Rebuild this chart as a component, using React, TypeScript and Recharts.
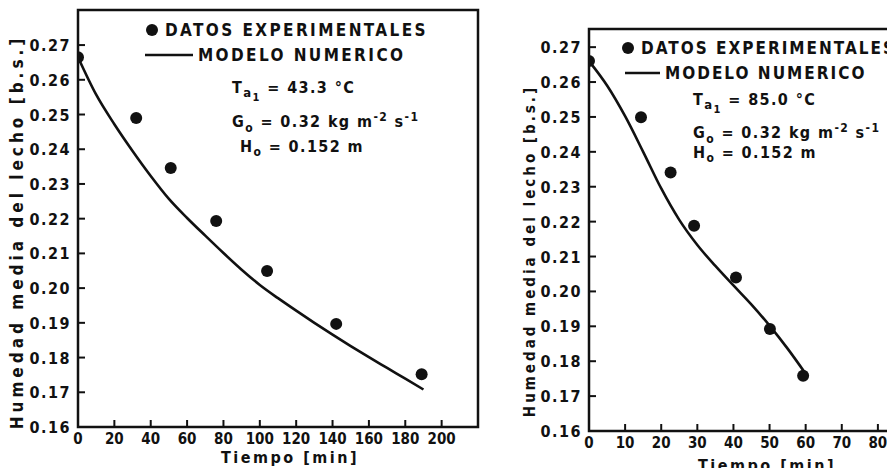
import React from "react";
import {
  ComposedChart,
  Legend,
  Line,
  ReferenceArea,
  Scatter,
  XAxis,
  YAxis,
} from "recharts";

// panel a: Ta1 = 43.3 °C
const tiempoExpA = [0, 32, 51, 76, 104, 142, 189];
const humedadExpA = [0.2665, 0.249, 0.2346, 0.2193, 0.2049, 0.1897, 0.1752];
const tiempoModA = [0, 10, 20, 30, 40, 50, 60, 70, 80, 90, 100, 110, 120, 130, 140, 150, 160, 170, 180, 190];
const humedadModA = [
  0.2665, 0.2557, 0.2472, 0.2395, 0.2323, 0.2257, 0.2202, 0.2151, 0.2101, 0.2053,
  0.2009, 0.1971, 0.1935, 0.19, 0.1866, 0.1833, 0.1801, 0.177, 0.1739, 0.1708,
];

// panel b: Ta1 = 85.0 °C
const tiempoExpB = [0, 14.4, 22.6, 29.1, 40.7, 50.1, 59.3];
const humedadExpB = [0.266, 0.2499, 0.2341, 0.2188, 0.204, 0.1892, 0.1758];
const tiempoModB = [0, 5, 10, 15, 20, 25, 30, 35, 40, 45, 50, 55, 60];
const humedadModB = [
  0.266, 0.259, 0.2502, 0.24, 0.2295, 0.2205, 0.2133, 0.2073, 0.2017, 0.1962,
  0.1902, 0.1836, 0.1764,
];

const yTicks = [0.16, 0.17, 0.18, 0.19, 0.2, 0.21, 0.22, 0.23, 0.24, 0.25, 0.26, 0.27];
const xTicksA = [0, 20, 40, 60, 80, 100, 120, 140, 160, 180, 200];
const xTicksB = [0, 10, 20, 30, 40, 50, 60, 70, 80];

const FONT = '"DejaVu Sans Condensed", "DejaVu Sans", sans-serif';
const INK = "#111";

const zip = (xs: number[], ys: number[]) => xs.map((t, i) => ({ t, h: ys[i] }));

const XTick = (props: any) => {
  const { x, y, payload } = props;
  return (
    <g>
      <line x1={x} x2={x} y1={y} y2={y - 7} stroke={INK} strokeWidth={2} />
      <text x={x} y={y + 17} textAnchor="middle" fontFamily={FONT} fontWeight="bold" fontSize={15} fill={INK}>
        {payload.value}
      </text>
    </g>
  );
};

const YTick = (props: any) => {
  const { x, y, payload } = props;
  return (
    <g>
      <line x1={x} x2={x + 7} y1={y} y2={y} stroke={INK} strokeWidth={2} />
      <text x={x - 7} y={y + 6} textAnchor="end" fontFamily={FONT} fontWeight="bold" fontSize={16} letterSpacing={1.5} fill={INK}>
        {payload.value.toFixed(2)}
      </text>
    </g>
  );
};

type PanelProps = {
  left: number;
  width: number;
  margin: { top: number; right: number; bottom: number; left: number };
  xDomain: [number, number];
  yDomain: [number, number];
  xTicks: number[];
  exp: { t: number; h: number }[];
  mod: { t: number; h: number }[];
  yTitle: { x: number; y: number; size: number; spacing: number };
  xTitle: { x: number; y: number };
  legend: { left: number; top: number; dotX: number; lineX2: number; spacing: number };
};

function Panel(p: PanelProps) {
  const renderLegend = () => (
    <svg width={360} height={56} style={{ overflow: "visible" }}>
      <circle cx={p.legend.dotX} cy={15} r={6} fill={INK} />
      <text x={p.legend.dotX + 13} y={21} fontFamily={FONT} fontWeight="bold" fontSize={17} letterSpacing={p.legend.spacing} fill={INK}>
        DATOS EXPERIMENTALES
      </text>
      <line x1={5} x2={p.legend.lineX2} y1={40} y2={40} stroke={INK} strokeWidth={2.5} />
      <text x={p.legend.lineX2 + 5} y={46} fontFamily={FONT} fontWeight="bold" fontSize={17} letterSpacing={p.legend.spacing} fill={INK}>
        MODELO NUMERICO
      </text>
    </svg>
  );

  return (
    <div style={{ position: "absolute", left: p.left, top: 0 }}>
      <ComposedChart width={p.width} height={476} margin={p.margin}>
        <XAxis
          type="number"
          dataKey="t"
          domain={p.xDomain}
          ticks={p.xTicks}
          allowDataOverflow
          axisLine={false}
          tickLine={false}
          tickSize={0}
          tickMargin={0}
          height={30}
          tick={<XTick />}
          label={() => (
            <text x={p.xTitle.x} y={p.xTitle.y} textAnchor="middle" fontFamily={FONT} fontWeight="bold" fontSize={16} letterSpacing={2.5} fill={INK}>
              Tiempo [min]
            </text>
          )}
        />
        <YAxis
          type="number"
          domain={p.yDomain}
          ticks={yTicks}
          allowDataOverflow
          axisLine={false}
          tickLine={false}
          tickSize={0}
          tickMargin={0}
          width={60}
          tick={<YTick />}
          label={() => (
            <text
              x={p.yTitle.x}
              y={p.yTitle.y}
              transform={`rotate(-90 ${p.yTitle.x} ${p.yTitle.y})`}
              textAnchor="middle"
              dominantBaseline="central"
              fontFamily={FONT}
              fontWeight="bold"
              fontSize={p.yTitle.size}
              letterSpacing={p.yTitle.spacing}
              fill={INK}
            >
              Humedad media del lecho [b.s.]
            </text>
          )}
        />
        <ReferenceArea
          x1={p.xDomain[0]}
          x2={p.xDomain[1]}
          y1={p.yDomain[0]}
          y2={p.yDomain[1]}
          fill="none"
          stroke={INK}
          strokeWidth={2.5}
          ifOverflow="visible"
        />
        <Line
          data={p.mod}
          dataKey="h"
          name="MODELO NUMERICO"
          type="monotone"
          stroke={INK}
          strokeWidth={2.6}
          dot={false}
          isAnimationActive={false}
        />
        <Scatter
          data={p.exp}
          dataKey="h"
          name="DATOS EXPERIMENTALES"
          fill={INK}
          shape={(s: any) => <circle cx={s.cx} cy={s.cy} r={6} fill={INK} />}
          isAnimationActive={false}
        />
        <Legend
          layout="horizontal"
          verticalAlign="middle"
          align="center"
          content={renderLegend}
          wrapperStyle={{ left: p.legend.left, top: p.legend.top, width: 360, height: 56 }}
        />
      </ComposedChart>
    </div>
  );
}

const paramStyle: React.CSSProperties = {
  position: "absolute",
  fontFamily: FONT,
  fontWeight: "bold",
  fontSize: 16,
  letterSpacing: 1.4,
  lineHeight: "20px",
  color: INK,
  whiteSpace: "nowrap",
};

function Params({ x, ys, temp, gap, hShift }: { x: number; ys: number[]; temp: string; gap: string; hShift: number }) {
  return (
    <>
      <div style={{ ...paramStyle, left: x, top: ys[0] - 10 }}>
        T<sub style={{ fontSize: 13 }}>a<sub style={{ fontSize: 11 }}>1</sub></sub>
        {gap}={gap}
        {temp} °C
      </div>
      <div style={{ ...paramStyle, left: x, top: ys[1] - 10 }}>
        G<sub style={{ fontSize: 12 }}>o</sub>
        {gap}={gap}0.32 kg m<sup style={{ fontSize: 12 }}>-2</sup> s<sup style={{ fontSize: 12 }}>-1</sup>
      </div>
      <div style={{ ...paramStyle, left: x + hShift, top: ys[2] - 10 }}>
        H<sub style={{ fontSize: 12 }}>o</sub>
        {gap}={gap}0.152 m
      </div>
    </>
  );
}

export default function App() {
  return (
    <div style={{ position: "relative", margin: -8, width: 895, height: 476, overflow: "hidden", background: "#fff" }}>
      <Panel
        left={0}
        width={480}
        margin={{ top: 10, right: 2, bottom: 19, left: 18 }}
        xDomain={[0, 220]}
        yDomain={[0.16, 0.2801]}
        xTicks={xTicksA}
        exp={zip(tiempoExpA, humedadExpA)}
        mod={zip(tiempoModA, humedadModA)}
        yTitle={{ x: 17, y: 232, size: 17, spacing: 4 }}
        xTitle={{ x: 290, y: 463 }}
        legend={{ left: 140, top: 15, dotX: 12, lineX2: 53, spacing: 2.4 }}
      />
      <Panel
        left={480}
        width={437}
        margin={{ top: 29, right: 3, bottom: 15, left: 49 }}
        xDomain={[0, 90]}
        yDomain={[0.16, 0.2752]}
        xTicks={xTicksB}
        exp={zip(tiempoExpB, humedadExpB)}
        mod={zip(tiempoModB, humedadModB)}
        yTitle={{ x: 50, y: 251, size: 15, spacing: 3 }}
        xTitle={{ x: 287, y: 471 }}
        legend={{ left: 140, top: 33, dotX: 8, lineX2: 40, spacing: 2 }}
      />
      <Params x={232} ys={[88, 117, 147]} temp="43.3" gap=" " hShift={8} />
      <Params x={693} ys={[100, 128, 153]} temp="85.0" gap=" " hShift={0} />
    </div>
  );
}
